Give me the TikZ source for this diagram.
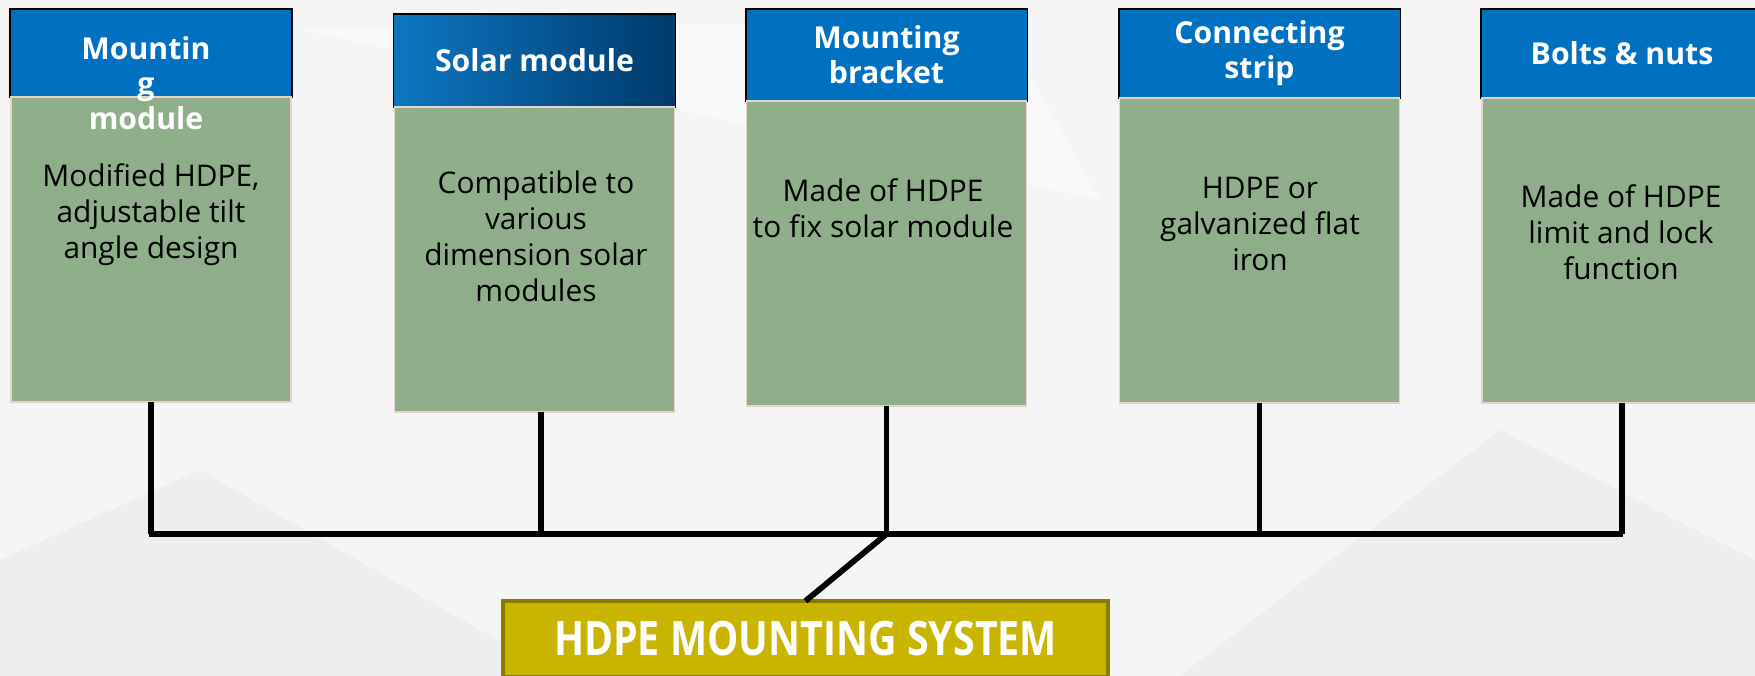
\documentclass[tikz,border=0pt]{standalone}
\usepackage{fontspec}
\setmainfont{Open Sans}
\usepackage{tikz}
\usepackage{xcolor}
\usetikzlibrary{positioning}

\definecolor{hblue}{RGB}{0,112,192}
\definecolor{hnavy}{RGB}{0,58,106}
\definecolor{sage}{RGB}{143,175,139}
\definecolor{rim}{RGB}{232,210,204}
\definecolor{gold}{RGB}{201,180,0}
\definecolor{golddark}{RGB}{140,122,0}
\definecolor{paper}{RGB}{245,245,246}
\definecolor{bgshade}{RGB}{238,238,240}
\definecolor{bglight}{RGB}{249,249,250}

\begin{document}
\begin{tikzpicture}[x=0.02cm,y=-0.02cm,
  every node/.style={inner sep=0pt,outer sep=0pt},
  head/.style={rectangle,draw=black,line width=1.1pt,fill=hblue,text=white,font=\bfseries\fontsize{17.2}{20}\selectfont,align=center,minimum width=5.64cm},
  body/.style={rectangle,draw=rim,line width=1pt,fill=sage,minimum width=5.6cm,minimum height=6.1cm},
  blurb/.style={align=center,font=\fontsize{17}{20.5}\selectfont,text=black},
  bar/.style={line width=3.3pt,black}]
\useasboundingbox (0,0) rectangle (1755,676);
\clip (0,0) rectangle (1755,676);
% background
\fill[paper] (0,0) rectangle (1755,676);
\fill[bgshade] (0,560) -- (200,470) -- (560,676) -- (0,676) -- cycle;
\fill[bgshade] (1180,676) -- (1500,430) -- (1755,560) -- (1755,676) -- cycle;
\fill[bglight] (300,30) -- (1100,200) -- (1000,20) -- cycle;
% headers
\node (h1) at (151,53) [head,minimum height=1.76cm]{};
\node (h2) at (534.5,60.5) [head,minimum height=1.86cm,left color=hblue!95!white,right color=hnavy]{Solar module};
\node (h3) at (886.5,55) [head,minimum height=1.84cm]{Mounting\\bracket};
\node (h4) at (1259.5,53.5) [head,minimum height=1.78cm]{Connecting\\strip};
\node (h5) at (1622,53.5) [head,minimum height=1.78cm]{Bolts \& nuts};
% bodies
\node (b1) [body,below=0pt of h1]{};
\node (b2) [body,below=0pt of h2]{};
\node (b3) [body,below=0pt of h3]{};
\node (b4) [body,below=0pt of h4]{};
\node (b5) [body,below=0pt of h5]{};
\node (n1) at (146,83) [head,draw=none,fill=none]{Mountin\\g\\module};
\node (t1) at (151,215) [blurb]{Modified HDPE,\\adjustable tilt\\angle design};
\node (t2) at (536,236) [blurb]{Compatible to\\various\\dimension solar\\modules};
\node (t3) at (883,208) [blurb]{Made of HDPE\\to fix solar module};
\node (t4) at (1260,224) [blurb]{HDPE or\\galvanized flat\\iron};
\node (t5) at (1621,232) [blurb]{Made of HDPE\\limit and lock\\function};
% system box
\node (sys) at (805.5,639) [rectangle,fill=gold,draw=golddark,line width=2pt,minimum width=12.1cm,minimum height=1.52cm,text=white,font=\bfseries\fontsize{27}{30}\selectfont]{\scalebox{0.83}[1]{HDPE MOUNTING SYSTEM}};
% bus
\coordinate (bl) at (149,534);
\coordinate (br) at (1623,534);
\coordinate (j3) at (b3.south |- bl);
\draw[bar] (b1.south) -- (b1.south |- bl);
\draw[bar] ([xshift=0.13cm]b2.south) -- ([xshift=0.13cm]b2.south |- bl);
\draw[bar] (b3.south) -- (j3);
\draw[bar] (b4.south) -- (b4.south |- bl);
\draw[bar] (b5.south) -- (b5.south |- bl);
\draw[bar] (bl) -- (br);
\draw[bar] (j3) -- (sys.north);
\end{tikzpicture}
\end{document}
